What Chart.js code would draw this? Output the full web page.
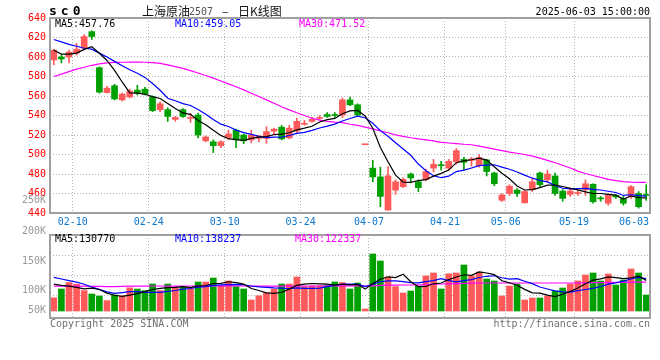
<!DOCTYPE html>
<html>
<head>
<meta charset="utf-8">
<script src="https://cdn.jsdelivr.net/npm/chart.js@4.4.1/dist/chart.umd.min.js"></script>
<style>
  body { margin: 0; background: #fff; }
  #wrap { position: relative; width: 660px; height: 360px; }
  canvas { position: absolute; left: 0; }
  #kline { top: 0; }
  #vol { top: 226px; }
</style>
</head>
<body>
<div id="wrap">
  <canvas id="kline" width="660" height="226"></canvas>
  <canvas id="vol" width="660" height="134"></canvas>
</div>
<script>
// trading days shown on the chart
const dates = [
  '02-06','02-07','02-10','02-11','02-12','02-13','02-14','02-17','02-18','02-19',
  '02-20','02-21','02-24','02-25','02-26','02-27','02-28','03-03','03-04','03-05',
  '03-06','03-07','03-10','03-11','03-12','03-13','03-14','03-17','03-18','03-19',
  '03-20','03-21','03-24','03-25','03-26','03-27','03-28','03-31','04-01','04-02',
  '04-03','04-07','04-08','04-09','04-10','04-11','04-14','04-15','04-16','04-17',
  '04-18','04-21','04-22','04-23','04-24','04-25','04-28','04-29','04-30','05-06',
  '05-07','05-08','05-09','05-12','05-13','05-14','05-15','05-16','05-19','05-20',
  '05-21','05-22','05-23','05-26','05-27','05-28','05-29','05-30','06-03'
];
const tickDates = ['02-10','02-24','03-10','03-24','04-07','04-21','05-06','05-19','06-03'];

const open = [
  597,600,600,604,609,626,589,563.5,570.5,556, 559,566,567,559,546,546,536,546,537,540.5,
  514,513,509,517.5,525,520,515,516.5,516.5,524, 528,517,524,531,534,537,541,541,540.5,556,
  551,510,486,477,443,463.5,467,480,472,474.5, 486,489,486,492.5,495,494,488.5,494.5,481,453,
  460,463.5,450.5,464,481,474,478,462.5,459,460, 464,469.5,455,450,458,455,457,460,458.5
];
const high = [
  608,602,607,614,623,627,590,570,572,563, 567,571,569,560,554,548,539,547,542,542.5,
  519,515,514,525,526,521,525,519.5,528.5,527, 530,530,537,535,538,540,543,543,558,559,
  552,510,494,487,487.5,474,476,481,474,485, 495,493,495,506,497,497,500,495,482,460,
  469,465,463,476,482,484,481,464,466,463, 474,470,457,460,459,457,468,462,469
];
const low = [
  592,594,594,602,607,618,563,563,556,555, 558,561,561,544,544,534,534,538,533,517,
  513,502,507,515,507,511,512,513,511.5,520, 515,516,522,530,533,536,538,538,538,550,
  540,510,472,446.5,443,459,466,471,462,473, 482,484,484,490,484,488,487,478,468,452,
  458,457,450,462,467,472,458,452,457,458, 458,450,452,448,455,448,455,445,453
];
const close = [
  607,598,605,608,621,621,564,568,557,562, 565,563,562,545,552,539,538,539,538,520,
  518,509,513,521,515,514,520,519,523.5,526, 516,527,534,532,536,538,539,540,556,551,
  540.5,510,477,457,478,472,474.5,476,466,482.5, 490,488.5,493,504,492,495.5,497,482.5,470,458.5,
  467.5,460,462,472,469,480,460,455,462.5,461, 470,451.5,454.5,458.5,456.5,450,467,446.5,458
];

// price moving averages as drawn
const ma5 = [
  607,603,603,604,607.8,610.6,603.8,596.4,586.2,574.4, 563.2,563,561.8,559.4,557.4,552.2,547.2,542.6,541.2,534.8,
  530.6,524.8,519.6,516.2,515.2,514.4,516.6,517.8,518.3,520.5, 520.9,522.3,525.3,527,529,533.4,535.8,537,541.8,544.8,
  545.3,539.5,526.9,507.1,492.5,478.8,471.7,471.5,473.3,474.2, 477.8,480.6,484,491.6,493.5,494.6,496.3,494.2,487.4,480.7,
  475.1,467.7,463.6,464,466.1,468.6,468.6,467.2,465.3,463.7, 461.7,460,460,459.2,458.3,454.3,457.4,455.7,455.6
];
const ma10 = [
  618,615.5,613,611,609,608,604,600,595.5,591.1, 586.9,583.4,579.1,572.8,565.9,557.7,555.1,552.2,550.3,546.1,
  541.4,536,531.1,528.7,525,522.5,520.7,518.7,517.3,517.9, 517.7,519.5,521.6,522.7,524.8,527.2,529.1,531.2,534.4,536.9,
  539.4,537.7,532,524.5,518.7,512.1,505.6,499.2,490.2,483.4, 478.3,476.2,477.8,482.5,483.9,486.2,488.5,489.1,489.5,487.1,
  484.9,482,478.9,475.7,473.4,471.9,468.2,465.4,464.7,464.9, 465.2,464.3,463.6,462.3,461,458,458.7,457.9,457.4
];
const ma30 = [
  580,582.5,585,587.5,589.5,591.5,593,594,594.5,594.6, 594.7,594.7,594.6,594.3,593.5,592,590.2,588.3,586,583.6,
  581,578.3,575.4,572.4,569.5,566.3,562.8,559.5,556,552.5, 549,545.8,542.8,540,537.2,535.3,534,533.2,532.6,531,
  529.8,528,526.2,524.3,522.3,520.2,518.6,517.2,516,515, 514,512.5,511.8,511.2,510.5,510,508.5,507,505.5,504,
  502.5,501.3,500,498.3,496.3,494,491.5,489,486.2,483, 480.5,478.5,476.5,474.5,473.2,472.2,471.7,471.5,471.5
];

const volume = [
  83000,105000,121000,117000,101000,92500,87500,76000,90000,87500,
  108000,105000,101000,117500,101000,117500,108000,111000,105000,122500,
  122500,132500,113000,125000,111000,105000,77500,88000,96000,105000,
  117500,117500,135000,111000,113000,113000,115000,122500,121000,105000,
  120000,55000,192500,175000,135000,111000,95000,100000,112500,137500,
  145000,105000,143000,145000,165000,137500,147500,130000,125000,87500,
  112500,117500,77500,82500,82500,87500,100000,107500,117500,125000,
  140000,145000,125000,142500,115000,127500,155000,145000,90000
];
const volMa5 = [
  117000,114000,112000,109000,105400,107300,103800,94800,89400,86700,
  89800,93300,98300,103800,106500,108400,109000,111000,108500,112800,
  113800,118700,119100,123100,120800,117300,106300,101300,95500,94300,
  96800,104800,114200,117200,118800,117900,117400,114900,116900,115300,
  116700,104700,118700,129500,135500,133700,141700,123200,110700,111200,
  118000,120000,128600,135100,140600,139100,147600,145000,141000,125500,
  120500,114500,104000,95500,94500,89500,86000,92000,99000,107500,
  118000,127000,130500,135500,133500,131000,133000,137000,126500
];
const volMa10 = [
  134000,130000,126000,122000,117000,110000,104000,98000,94000,96100,
  98600,98600,96600,96600,96600,99100,101200,104700,106200,109700,
  111100,113900,115100,115800,116800,115600,112500,110200,109300,107600,
  107100,105600,107800,106400,106600,107400,111100,114600,117100,117100,
  117300,111100,116800,123200,125400,125200,123200,121000,120100,123400,
  125900,130900,125900,122900,125900,128600,133800,136800,138100,133100,
  129800,131100,124500,118300,110000,105000,100300,98000,97300,101000,
  103800,106500,111300,117300,120500,124500,130000,133800,131000
];
const volMa30 = [
  112000,112000,112000,112000,112000,111500,111500,111000,111000,111500,
  112000,112000,112000,112500,112500,112000,112000,112000,112500,113000,
  113000,113000,113000,113000,113000,112500,112000,112000,112000,112000,
  112000,112000,112500,112500,112500,112500,113000,113000,113000,113000,
  113000,112000,113000,114000,114500,114500,115000,115000,115500,116000,
  117000,117500,118000,118500,119000,119500,120000,120000,120000,120000,
  120000,120000,120000,120000,120000,120000,120000,120000,120000,120000,
  120500,121000,121000,121000,121500,121500,122000,122000,122300
];

const priceLegend = ['MA5:457.76', 'MA10:459.05', 'MA30:471.52'];
const volLegend = ['MA5:130770', 'MA10:138237', 'MA30:122337'];
const volLabels = ['250K', '200K', '150K', '100K', '50K'];

const RED = '#ff5a5a';
const GREEN = '#00a000';
const GRID = '#b4b4b4';
const MONO = 'DejaVu Sans Mono';
const lastTick = tickDates.length - 1;

const upDown = ctx => close[ctx.dataIndex] >= open[ctx.dataIndex] ? RED : GREEN;

// tick positions sit on the right edge of each labelled day; the last label is pulled inside
function dateTicks(scale) {
  scale.ticks = tickDates.map((d, k) => {
    const i = dates.indexOf(d);
    return { value: k === lastTick ? i - 1.6 : i + 0.5, label: d };
  });
}

function xAxis(showLabels, height) {
  return {
    type: 'linear',
    position: 'bottom',
    min: -0.5,
    max: dates.length - 0.5,
    afterBuildTicks: dateTicks,
    afterFit: s => { s.height = height; },
    grid: {
      drawTicks: false,
      color: c => c.index === lastTick ? 'rgba(0,0,0,0)' : GRID
    },
    border: { display: false, dash: [1, 2] },
    ticks: {
      display: showLabels,
      autoSkip: false,
      maxRotation: 0,
      padding: 3,
      color: '#0b78d0',
      font: { family: MONO, size: 10 },
      callback: (v, k) => tickDates[k]
    }
  };
}

const frame = {
  id: 'frame',
  afterDraw(chart) {
    const { ctx, chartArea: a } = chart;
    ctx.save();
    ctx.strokeStyle = '#a0a0a0';
    ctx.lineWidth = 2;
    ctx.strokeRect(a.left, a.top, a.right - a.left, a.bottom - a.top);
    ctx.restore();
  }
};

function put(ctx, str, x, y, color, font, align) {
  ctx.fillStyle = color;
  ctx.font = font;
  ctx.textAlign = align || 'left';
  ctx.textBaseline = 'middle';
  ctx.fillText(str, x, y);
}

const klineText = {
  id: 'klineText',
  afterDraw(chart) {
    const ctx = chart.ctx;
    const a = chart.chartArea;
    ctx.save();
    ctx.letterSpacing = '4px';
    put(ctx, 'sc0', 49, 12, '#000', 'bold 13px ' + MONO);
    ctx.letterSpacing = '0px';
    put(ctx, '上海原油', 142, 11, '#111', '12px "Noto Sans CJK SC"');
    put(ctx, '2507', 189, 12, '#555', '10px ' + MONO);
    put(ctx, '–', 222, 11, '#111', '12px "Noto Sans CJK SC"');
    put(ctx, '日K线图', 238, 11, '#111', '12px "Noto Sans CJK SC"');
    put(ctx, '2025-06-03 15:00:00', a.right, 12, '#000', '10px ' + MONO, 'right');
    put(ctx, priceLegend[0], 55, 24, '#000', '10px ' + MONO);
    put(ctx, priceLegend[1], 175, 24, '#0000ff', '10px ' + MONO);
    put(ctx, priceLegend[2], 299, 24, '#ff00ff', '10px ' + MONO);
    put(ctx, volLabels[0], 46, 200, '#999', '10px ' + MONO, 'right');
    ctx.restore();
  }
};

const volText = {
  id: 'volText',
  afterDraw(chart) {
    const ctx = chart.ctx;
    const a = chart.chartArea;
    ctx.save();
    put(ctx, volLabels[1], 46, 5, '#999', '10px ' + MONO, 'right');
    put(ctx, volLabels[2], 46, 35, '#999', '10px ' + MONO, 'right');
    put(ctx, volLabels[3], 46, 64, '#999', '10px ' + MONO, 'right');
    put(ctx, volLabels[4], 46, 84, '#999', '10px ' + MONO, 'right');
    put(ctx, volLegend[0], 55, 13, '#000', '10px ' + MONO);
    put(ctx, volLegend[1], 175, 13, '#0000ff', '10px ' + MONO);
    put(ctx, volLegend[2], 295, 13, '#ff00ff', '10px ' + MONO);
    put(ctx, 'Copyright 2025 SINA.COM', 50, 98, '#707070', '10px ' + MONO);
    put(ctx, 'http://finance.sina.com.cn', a.right, 98, '#707070', '10px ' + MONO, 'right');
    ctx.restore();
  }
};

function maLine(label, data, color, yAxisID) {
  return {
    type: 'line', label, data, yAxisID, xAxisID: 'x',
    borderColor: color, borderWidth: 1.2,
    pointRadius: 0, tension: 0, order: 1
  };
}

const common = {
  responsive: false,
  animation: false,
  events: [],
  plugins: { legend: { display: false }, tooltip: { enabled: false } }
};

new Chart(document.getElementById('kline'), {
  data: {
    labels: dates,
    datasets: [
      { type: 'bar', label: 'wick', data: low.map((l, i) => [l, high[i]]),
        backgroundColor: upDown, barThickness: 1, grouped: false, order: 3 },
      { type: 'bar', label: 'body', data: open.map((o, i) => [o, close[i]]),
        backgroundColor: upDown, barThickness: 6, minBarLength: 1, grouped: false, order: 2 },
      maLine('MA5', ma5, '#000000', 'y'),
      maLine('MA10', ma10, '#0000ff', 'y'),
      maLine('MA30', ma30, '#ff00ff', 'y')
    ]
  },
  options: {
    ...common,
    layout: { padding: { top: 18, right: 10, left: 0, bottom: 0 } },
    scales: {
      x: { type: 'category', display: false },
      xt: xAxis(true, 13),
      y: {
        position: 'left',
        min: 440, max: 640,
        afterFit: s => { s.width = 50; },
        grid: { drawTicks: false, color: GRID },
        border: { display: false, dash: [1, 2] },
        ticks: { stepSize: 20, padding: 4, color: '#ff0000', font: { family: MONO, size: 10 } }
      }
    }
  },
  plugins: [frame, klineText]
});

new Chart(document.getElementById('vol'), {
  data: {
    labels: dates,
    datasets: [
      { type: 'bar', label: 'volume', data: volume, base: 50000,
        backgroundColor: upDown, barThickness: 6, grouped: false, order: 2 },
      maLine('MA5', volMa5, '#000000', 'y'),
      maLine('MA10', volMa10, '#0000ff', 'y'),
      maLine('MA30', volMa30, '#ff00ff', 'y')
    ]
  },
  options: {
    ...common,
    layout: { padding: { top: 9, right: 10, left: 0, bottom: 0 } },
    scales: {
      x: { type: 'category', display: false },
      xt: xAxis(false, 42),
      y: {
        position: 'left',
        min: 32500, max: 240000,
        afterBuildTicks: s => { s.ticks = [90000, 140000, 190000].map(v => ({ value: v })); },
        afterFit: s => { s.width = 50; },
        grid: { drawTicks: false, color: GRID },
        border: { display: false, dash: [1, 2] },
        ticks: { display: false }
      }
    }
  },
  plugins: [frame, volText]
});
</script>
</body>
</html>
